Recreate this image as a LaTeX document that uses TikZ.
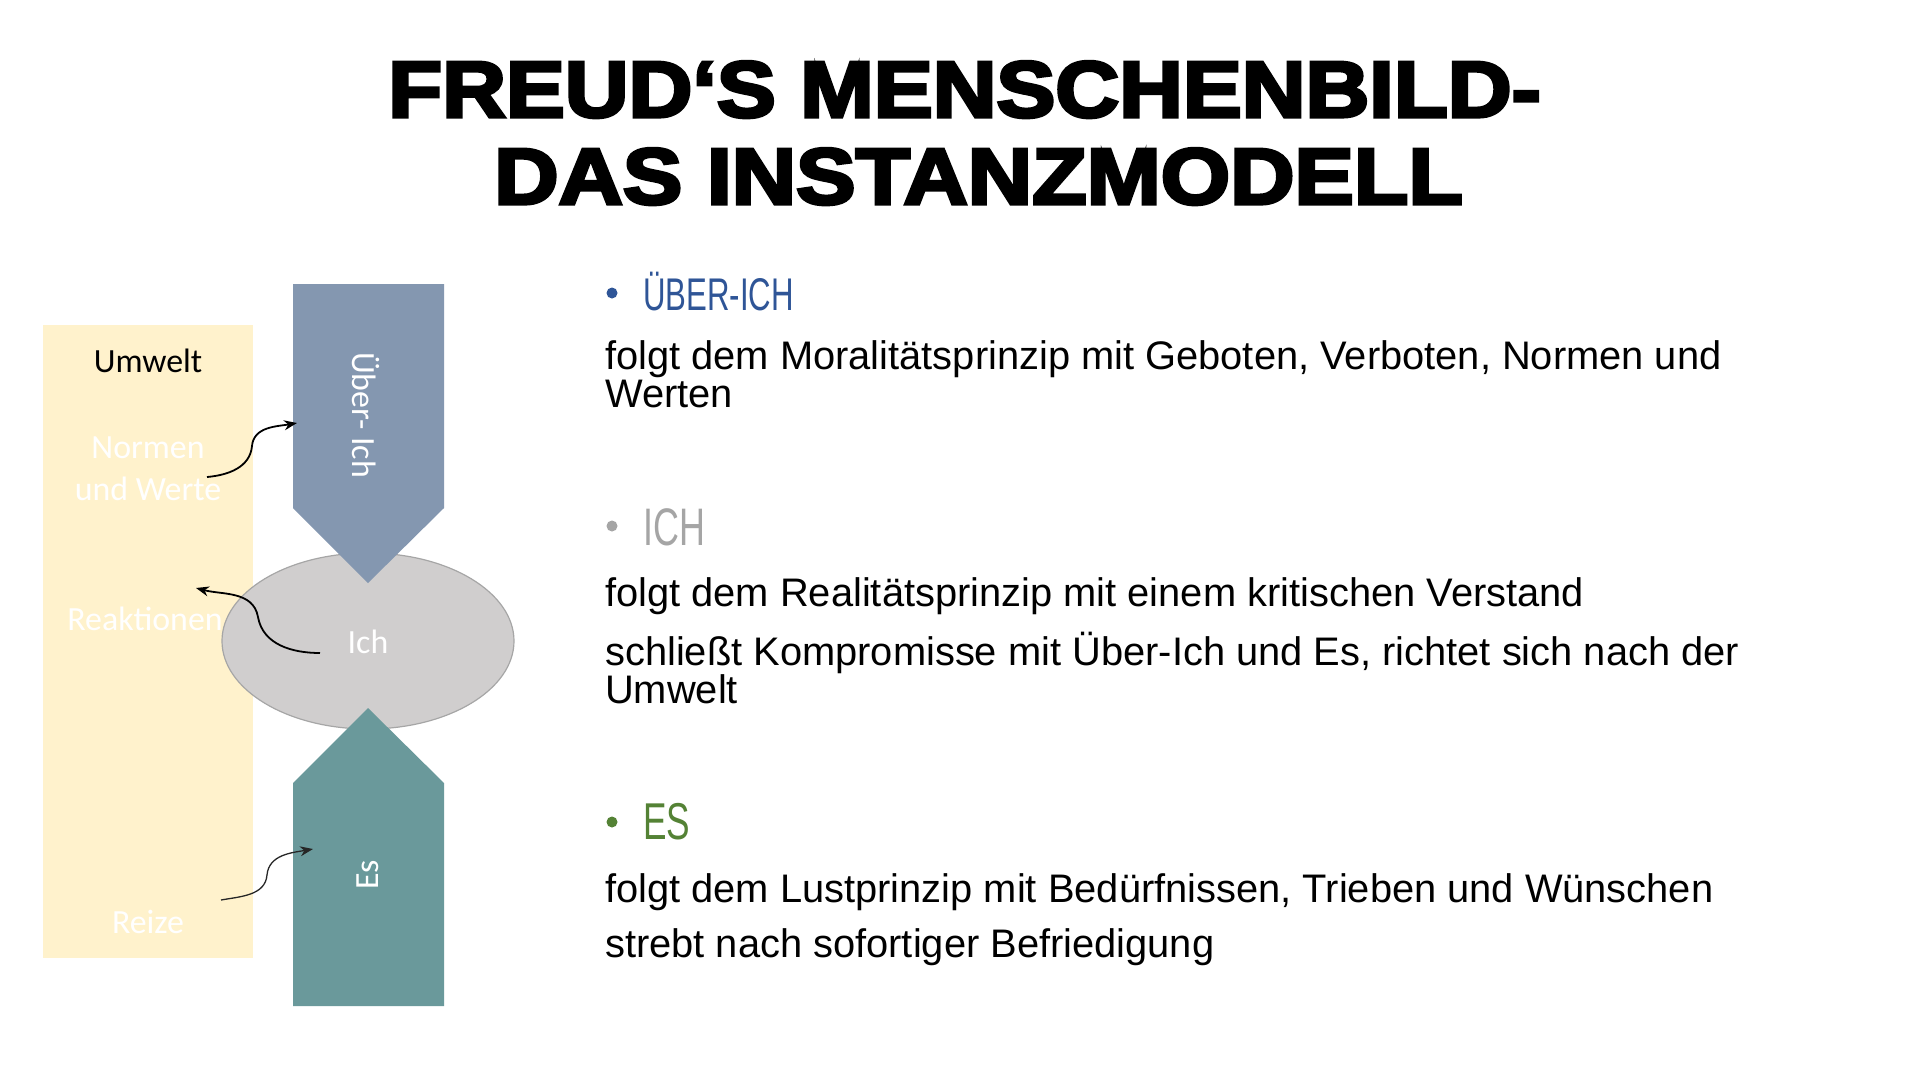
\documentclass[tikz,border=0pt]{standalone}
\usepackage{fontspec}
\setmainfont{Liberation Sans}
\newfontfamily\calfont{Carlito}
\newfontfamily\titlefont[BoldFeatures={FakeBold=4}]{Liberation Sans}
\usetikzlibrary{arrows.meta}
\definecolor{umweltcol}{HTML}{FFF2CC}
\definecolor{uebercol}{HTML}{8497B0}
\definecolor{escol}{HTML}{6A999B}
\definecolor{ichcol}{HTML}{D0CECE}
\definecolor{ichline}{HTML}{A6A6A6}
\definecolor{hblue}{HTML}{2F5597}
\definecolor{hgray}{HTML}{A5A5A5}
\definecolor{hgreen}{HTML}{548235}
\tikzset{
  titletext/.style={inner sep=0pt, anchor=base west, font=\titlefont\bfseries\fontsize{80}{80}\selectfont},
  bodytext/.style={inner sep=0pt, anchor=base west, font=\fontsize{40}{40}\selectfont},
  headtext/.style={inner sep=0pt, anchor=base west},
  boxtext/.style={inner sep=0pt, anchor=base, text=white, font=\calfont\fontsize{34}{34}\selectfont},
  conn/.style={-{Stealth[length=13pt,width=10pt]}, line width=1.8pt, black},
  bulletdot/.style={circle, inner sep=0pt, minimum size=11pt}
}
\begin{document}
\begin{tikzpicture}[x=1bp,y=-1bp]
\useasboundingbox (0,0) rectangle (1920,1080);
\fill[white] (0,0) rectangle (1920,1080);

% title
\node[titletext] (t1) at (388,117) {\scalebox{1.108}[1]{FREUD‘S MENSCHENBILD-}};
\node[titletext] (t2) at (494,204) {\scalebox{1.118}[1]{DAS INSTANZMODELL}};

% Umwelt box
\fill[umweltcol] (43,325) rectangle (253,958);
\node[boxtext, text=black] (umwelt) at (148,372) {Umwelt};
\node[boxtext] (normen) at (148,458) {Normen};
\node[boxtext] (werte) at (148,500) {und Werte};
\node[boxtext] (reakt) at (145,630) {Reaktionen};
\node[boxtext] (reize) at (148,933) {Reize};

% Ich ellipse
\fill[ichcol, draw=ichline, line width=1.2pt] (368,641) ellipse [x radius=146, y radius=88];

% Ueber-Ich arrow
\fill[uebercol] (293,284) -- (444,284) -- (444,508) -- (368,583) -- (293,508) -- cycle;
% Es arrow
\fill[escol] (293,1006) -- (444,1006) -- (444,783) -- (368,708) -- (293,783) -- cycle;

\node[inner sep=0pt, text=white, font=\calfont\fontsize{34}{34}\selectfont, rotate=-90] (ueber) at (366,415) {Über- Ich};
\node[inner sep=0pt, text=white, font=\calfont\fontsize{34}{34}\selectfont, rotate=90] (es) at (368,875) {Es};
\node[boxtext] (ich) at (368,653) {Ich};

% connectors
\coordinate (a1s) at (207,477);
\coordinate (a1m) at (252,446);
\coordinate (a1e) at (297,423);
\coordinate (a2s) at (320,653);
\coordinate (a2m) at (258,617);
\coordinate (a2e) at (196,588);
\coordinate (a3s) at (221,900);
\coordinate (a3m) at (267,875);
\coordinate (a3e) at (313,849);
\draw[conn] (a1s) to[out=5,in=-95] (a1m) to[out=85,in=190] (a1e);
\draw[conn] (a2s) to[out=180,in=-80] (a2m) to[out=100,in=-15] (a2e);
\draw[conn, line width=1.3pt, draw=black!85] (a3s) to[out=10,in=-95] (a3m) to[out=85,in=190] (a3e);

% right column
\fill[hblue] (612,293) circle (5.5);
\node[headtext, text=hblue, font=\fontsize{46}{46}\selectfont] (h1) at (643,310) {\scalebox{0.68}[1]{ÜBER-ICH}};
\node[bodytext] (l1) at (605,369) {folgt dem Moralitätsprinzip mit Geboten, Verboten, Normen und};
\node[bodytext] (l2) at (605,407) {Werten};

\fill[hgray] (612,526) circle (5.5);
\node[headtext, text=hgray, font=\fontsize{53}{53}\selectfont] (h2) at (643,545) {\scalebox{0.68}[1]{ICH}};
\node[bodytext] (l3) at (605,606) {folgt dem Realitätsprinzip mit einem kritischen Verstand};
\node[bodytext] (l4) at (605,665) {schließt Kompromisse mit Über-Ich und Es, richtet sich nach der};
\node[bodytext] (l5) at (605,703) {Umwelt};

\fill[hgreen] (612,822) circle (5.5);
\node[headtext, text=hgreen, font=\fontsize{52}{52}\selectfont] (h3) at (643,839) {\scalebox{0.68}[1]{ES}};
\node[bodytext] (l6) at (605,902) {folgt dem Lustprinzip mit Bedürfnissen, Trieben und Wünschen};
\node[bodytext] (l7) at (605,957) {strebt nach sofortiger Befriedigung};
\end{tikzpicture}
\end{document}
